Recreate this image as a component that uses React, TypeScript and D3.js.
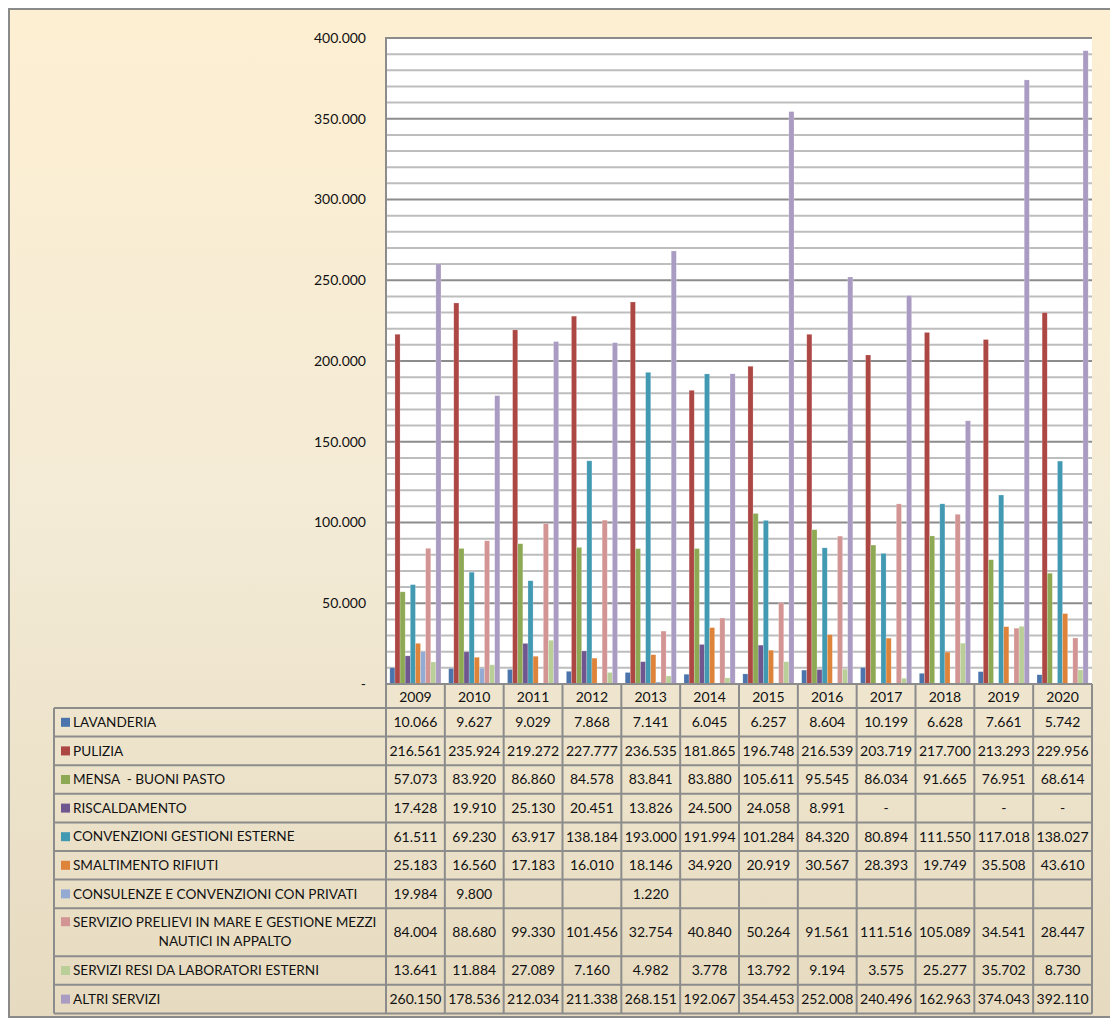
import React from "react";
import * as d3 from "d3";

const years = ["2009","2010","2011","2012","2013","2014","2015","2016","2017","2018","2019","2020"];
const seriesNames = [
  "LAVANDERIA",
  "PULIZIA",
  "MENSA  - BUONI PASTO",
  "RISCALDAMENTO",
  "CONVENZIONI GESTIONI ESTERNE",
  "SMALTIMENTO RIFIUTI",
  "CONSULENZE E CONVENZIONI CON PRIVATI",
  "SERVIZIO PRELIEVI IN MARE E GESTIONE MEZZI|NAUTICI IN APPALTO",
  "SERVIZI RESI DA LABORATORI ESTERNI",
  "ALTRI SERVIZI",
];
const colors = ["#4A74AB","#AD4744","#8DA954","#70568F","#4299B2","#DE833A","#93AAD2","#D39593","#BACF98","#A99BC2"];

// null = blank cell, "-" = dash cell
const lavanderia = [10066, 9627, 9029, 7868, 7141, 6045, 6257, 8604, 10199, 6628, 7661, 5742];
const pulizia = [216561, 235924, 219272, 227777, 236535, 181865, 196748, 216539, 203719, 217700, 213293, 229956];
const mensa = [57073, 83920, 86860, 84578, 83841, 83880, 105611, 95545, 86034, 91665, 76951, 68614];
const riscaldamento: (number | string | null)[] = [17428, 19910, 25130, 20451, 13826, 24500, 24058, 8991, "-", null, "-", "-"];
const convenzioni = [61511, 69230, 63917, 138184, 193000, 191994, 101284, 84320, 80894, 111550, 117018, 138027];
const smaltimento = [25183, 16560, 17183, 16010, 18146, 34920, 20919, 30567, 28393, 19749, 35508, 43610];
const consulenze: (number | null)[] = [19984, 9800, null, null, 1220, null, null, null, null, null, null, null];
const prelievi = [84004, 88680, 99330, 101456, 32754, 40840, 50264, 91561, 111516, 105089, 34541, 28447];
const laboratori = [13641, 11884, 27089, 7160, 4982, 3778, 13792, 9194, 3575, 25277, 35702, 8730];
const altri = [260150, 178536, 212034, 211338, 268151, 192067, 354453, 252008, 240496, 162963, 374043, 392110];

const seriesValues: (number | string | null)[][] = [
  lavanderia, pulizia, mensa, riscaldamento, convenzioni, smaltimento, consulenze, prelievi, laboratori, altri,
];
const yTicks = [0, 50000, 100000, 150000, 200000, 250000, 300000, 350000, 400000];

const fmt = (v: number) => (v === 0 ? "-" : d3.format(",")(v).replace(/,/g, "."));
const FONT = "Lato, 'Liberation Sans', sans-serif";

export default function App() {
  const W = 1110, H = 1020;
  const plotL = 386, plotR = 1092, plotT = 38, plotB = 684;
  const labelL = 54;
  const x = d3.scaleBand<string>().domain(years).range([plotL, plotR]);
  const xi = d3.scaleBand<number>().domain(d3.range(seriesValues.length)).range([0, x.bandwidth()]).paddingOuter(0.75).paddingInner(0);
  const y = d3.scaleLinear().domain([0, 400000]).range([plotB, plotT]);
  const minor = d3.range(10000, 400001, 10000);

  // table rows layout
  const headerH = 24;
  const rowH = seriesNames.map((n) => (n.includes("|") ? 48 : 28.6));
  const rowTops: number[] = [];
  let acc = plotB + headerH;
  rowH.forEach((h) => { rowTops.push(acc); acc += h; });
  const tableB = acc;

  return (
    <svg width={W} height={H} style={{ position: "absolute", left: 0, top: 0 }} fontFamily={FONT}>
      <defs>
        <linearGradient id="bg" x1="0" y1="0" x2="0" y2="1">
          <stop offset="0" stopColor="#FDEFD2" />
          <stop offset="0.5" stopColor="#F4EBD6" />
          <stop offset="1" stopColor="#E6DBC0" />
        </linearGradient>
      </defs>
      <rect x={0} y={0} width={W} height={H} fill="#fff" />
      <rect x={9} y={9} width={W} height={1008} fill="url(#bg)" stroke="#8a8a8a" strokeWidth={2} />
      <rect x={plotL} y={plotT} width={plotR - plotL} height={plotB - plotT} fill="#fff" />
      {minor.map((v) => (
        <line key={v} x1={plotL} x2={plotR} y1={y(v)} y2={y(v)}
          stroke={v % 50000 === 0 ? "#8c8c8c" : "#bdbdbd"} strokeWidth={2} />
      ))}
      {years.map((yr, i) => (
        <g key={yr}>
          {seriesValues.map((s, si) => {
            const v = s[i];
            if (typeof v !== "number") return null;
            const bx = (x(yr) as number) + (xi(si) as number);
            return (
              <rect key={si} x={bx} y={y(v)} width={xi.bandwidth()} height={plotB - y(v)}
                fill={colors[si]} stroke="#ffffff" strokeOpacity={0.35} strokeWidth={0.6} />
            );
          })}
        </g>
      ))}
      <line x1={plotL} x2={plotL} y1={plotT - 1} y2={plotB} stroke="#8c8c8c" strokeWidth={2} />
      {yTicks.map((t) => (
        <text key={t} x={366} y={y(t)} dy="0.35em" textAnchor="end" fontSize={14} fill="#111">{fmt(t)}</text>
      ))}

      {/* table */}
      <g stroke="#8c8c8c" strokeWidth={2}>
        <line x1={plotL} x2={plotR} y1={plotB} y2={plotB} />
        {rowTops.map((t, i) => (
          <line key={i} x1={labelL} x2={plotR} y1={t} y2={t} />
        ))}
        <line x1={labelL} x2={plotR} y1={tableB} y2={tableB} />
        <line x1={labelL} x2={labelL} y1={rowTops[0]} y2={tableB} />
        {years.map((yr) => (
          <line key={yr} x1={x(yr)} x2={x(yr)} y1={plotB} y2={tableB} />
        ))}
        <line x1={plotR} x2={plotR} y1={plotB} y2={tableB} />
      </g>
      {years.map((yr) => (
        <text key={yr} x={(x(yr) as number) + x.bandwidth() / 2} y={plotB + headerH / 2 + 1} dy="0.35em"
          textAnchor="middle" fontSize={14} fill="#111">{yr}</text>
      ))}
      {seriesNames.map((name, si) => {
        const top = rowTops[si];
        const h = rowH[si];
        const lines = name.split("|");
        const cy = top + h / 2;
        return (
          <g key={si}>
            <rect x={61} y={lines.length > 1 ? top + 9 : cy - 4.5} width={9} height={9} fill={colors[si]} />
            {lines.length === 1 ? (
              <text x={73} y={cy} dy="0.35em" fontSize={13.6} fill="#111" style={{ whiteSpace: "pre" }}>{name}</text>
            ) : (
              <>
                <text x={73} y={top + 14} dy="0.35em" fontSize={13.6} fill="#111">{lines[0]}</text>
                <text x={225} y={top + 33} dy="0.35em" fontSize={13.6} textAnchor="middle" fill="#111">{lines[1]}</text>
              </>
            )}
            {years.map((yr, i) => {
              const v = seriesValues[si][i];
              if (v === null) return null;
              return (
                <text key={yr} x={(x(yr) as number) + x.bandwidth() / 2} y={cy} dy="0.35em"
                  textAnchor="middle" fontSize={14} fill="#111">
                  {typeof v === "number" ? fmt(v) : v}
                </text>
              );
            })}
          </g>
        );
      })}
    </svg>
  );
}
